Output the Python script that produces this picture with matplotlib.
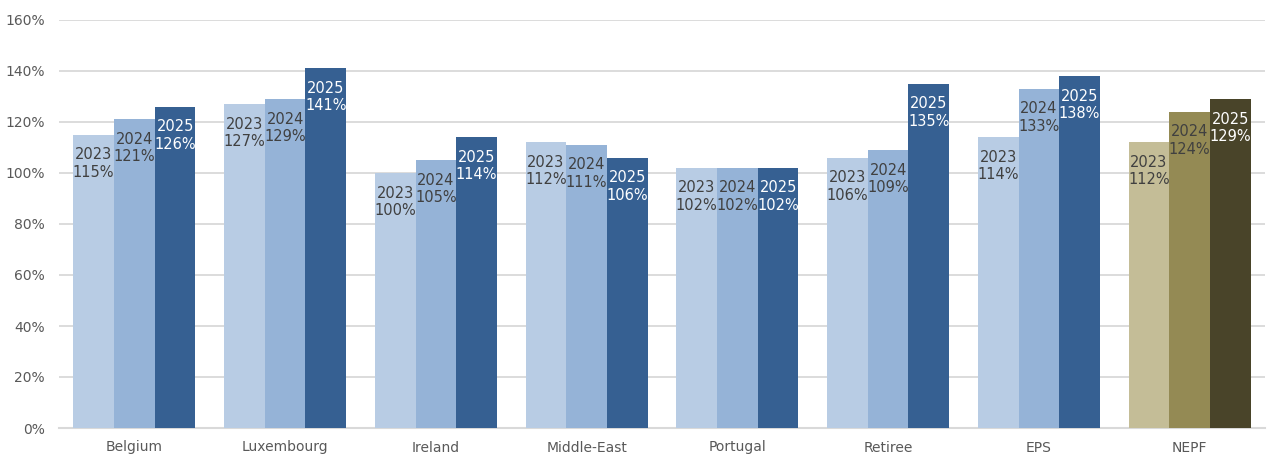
import numpy as np
import matplotlib.pyplot as plt

categories = ["Belgium", "Luxembourg", "Ireland", "Middle-East", "Portugal", "Retiree", "EPS", "NEPF"]
years = ["2023", "2024", "2025"]
v2023 = [115, 127, 100, 112, 102, 106, 114, 112]
v2024 = [121, 129, 105, 111, 102, 109, 133, 124]
v2025 = [126, 141, 114, 106, 102, 135, 138, 129]

blue = ["#B8CCE4", "#95B3D7", "#366092"]
olive = ["#C4BD97", "#948A54", "#494429"]
txt = ["#404040", "#404040", "#FFFFFF"]

plt.rcParams['font.family'] = ['DejaVu Sans']

fig = plt.figure(figsize=(12.75, 4.57), dpi=100)
ax = fig.add_axes([59/1275, 29/457, 1206/1275, 408/457])

x = np.arange(len(categories))
w = 0.27
series = [v2023, v2024, v2025]
for i, vals in enumerate(series):
    cols = [olive[i] if c == "NEPF" else blue[i] for c in categories]
    pos = x + (i - 1) * w
    ax.bar(pos, vals, width=w, color=cols, zorder=3)
    for p, v in zip(pos, vals):
        ax.annotate(years[i] + "\n" + str(v) + "%", (p, v), xytext=(0, -9),
                    textcoords="offset points", ha="center", va="top",
                    fontsize=10.5, color=txt[i], linespacing=1.2, zorder=4)

ax.set_xlim(-0.5, len(categories) - 0.5)
ax.set_ylim(0, 160)
ax.set_yticks(range(0, 161, 20))
ax.set_yticklabels([str(t) + "%" for t in range(0, 161, 20)])
ax.set_xticks(x)
ax.set_xticklabels(categories)
ax.tick_params(length=0, colors="#595959", labelsize=10)
ax.tick_params(axis="y", pad=10)
ax.tick_params(axis="x", pad=9)
ax.grid(axis="y", color="#D9D9D9", linewidth=1.3, zorder=0)
for s in ["top", "right", "left"]:
    ax.spines[s].set_visible(False)
ax.spines["bottom"].set_color("#D9D9D9")
ax.spines["bottom"].set_linewidth(1.5)

fig.savefig("out.png", dpi=100)
